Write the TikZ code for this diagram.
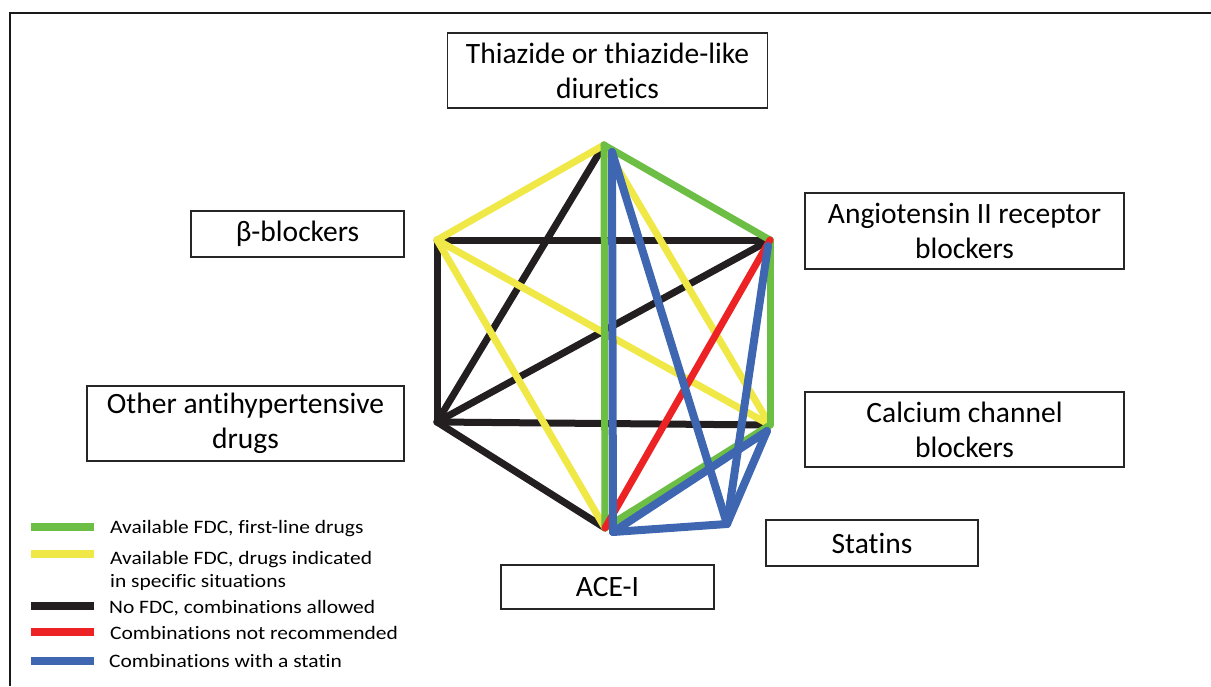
\documentclass[tikz,border=0pt]{standalone}
\usepackage{fontspec}
\setmainfont{Carlito}[Ligatures={NoCommon}]
\newfontfamily\legfont{Carlito}[FakeStretch=1.13,Ligatures={NoCommon}]
\definecolor{cgreen}{RGB}{108,190,69}
\definecolor{cyellow}{RGB}{240,232,70}
\definecolor{cblack}{RGB}{35,31,32}
\definecolor{cred}{RGB}{237,34,36}
\definecolor{cblue}{RGB}{63,103,177}
\begin{document}
\begin{tikzpicture}[x=1pt,y=-1pt,
  box/.style={draw=black!85,line width=1.2pt,inner sep=0pt,align=center,
    font=\fontsize{29.5}{35}\selectfont},
  lnk/.style={line width=7pt,line cap=round},
  blnk/.style={line width=8pt,line cap=round,draw=cblue},
  legbar/.style={inner sep=0pt,minimum width=63pt,minimum height=8pt},
  legtext/.style={anchor=west,inner sep=0pt,align=left,
    font=\legfont\fontsize{19}{23}\selectfont}]
\useasboundingbox (0,0) rectangle (1211,686);
% frame
\draw[line width=2pt,black!90] (10,686) -- (10,13) -- (1211,13);

% vertices
\coordinate (T) at (604,145);
\coordinate (A) at (770,240);
\coordinate (C) at (770,425);
\coordinate (S) at (727,524);
\coordinate (E) at (605,528);
\coordinate (B) at (437,240);
\coordinate (O) at (437,422);
% blue offsets
\coordinate (Tb) at (612,152);
\coordinate (Ab) at (768,246);
\coordinate (Cb) at (767,431);
\coordinate (Eb) at (613,532);

% boxes
\node[box,minimum width=320pt,minimum height=75pt] (thz) at (607.5,70.5)
  {Thiazide or thiazide-like\\diuretics};
\node[box,minimum width=213pt,minimum height=46pt] (bb) at (297.5,234)
  {β-blockers};
\node[box,minimum width=317pt,minimum height=75pt] (oth) at (245.5,423.5)
  {Other antihypertensive\\drugs};
\node[box,minimum width=319pt,minimum height=76pt] (arb) at (964.5,231)
  {Angiotensin II receptor\\blockers};
\node[box,minimum width=319pt,minimum height=75pt] (ccb) at (964.5,429.5)
  {Calcium channel\\blockers};
\node[box,minimum width=212pt,minimum height=46pt] (sta) at (872,543)
  {Statins};
\node[box,minimum width=213pt,minimum height=44pt] (ace) at (607.5,587)
  {ACE-I};

% black
\draw[lnk,cblack] (B) -- (A);
\draw[lnk,cblack] (B) -- (O);
\draw[lnk,cblack] (O) -- (T);
\draw[lnk,cblack] (O) -- (A);
\draw[lnk,cblack] (O) -- (C);
\draw[lnk,cblack] (O) -- (E);
% yellow
\draw[lnk,cyellow] (T) -- (B);
\draw[lnk,cyellow] (T) -- (C);
\draw[lnk,cyellow] (B) -- (C);
\draw[lnk,cyellow] (B) -- (E);
% green
\draw[lnk,cgreen] (T) -- (A);
\draw[lnk,cgreen] (T) -- (E);
\draw[lnk,cgreen] (A) -- (C);
\draw[lnk,cgreen] (C) -- (E);
% red
\draw[lnk,cred] (A) -- (E);
% blue
\draw[blnk] (Tb) -- (Eb);
\draw[blnk] (Tb) -- (S);
\draw[blnk] (Ab) -- (S);
\draw[blnk] (Cb) -- (S);
\draw[blnk] (Cb) -- (Eb);
\draw[blnk] (Eb) -- (S);

% legend
\node[legbar,fill=cgreen] (lg1) at (62.5,527) {};
\node[legbar,fill=cyellow] (lg2) at (62.5,554) {};
\node[legbar,fill=cblack] (lg3) at (62.5,606) {};
\node[legbar,fill=cred] (lg4) at (62.5,632) {};
\node[legbar,fill=cblue] (lg5) at (62.5,661) {};
\node[legtext] (lt1) at (110,529) {Available FDC, first-line drugs};
\node[legtext] (lt2) at (110,570.5) {Available FDC, drugs indicated\\in specific situations};
\node[legtext] (lt3) at (109,608) {No FDC, combinations allowed};
\node[legtext] (lt4) at (110,633) {Combinations not recommended};
\node[legtext] (lt5) at (109,661) {Combinations with a statin};
\end{tikzpicture}
\end{document}
